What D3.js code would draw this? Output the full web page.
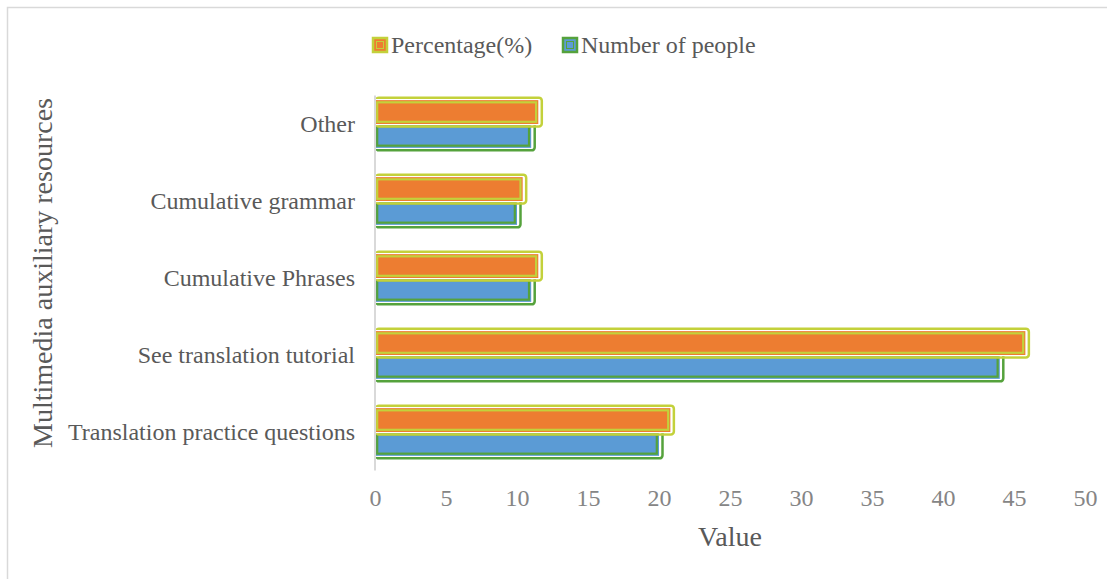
<!DOCTYPE html>
<html>
<head>
<meta charset="utf-8">
<script src="https://cdn.jsdelivr.net/npm/d3@7"></script>
<style>
  body { margin: 0; background: #fff; }
  svg text { font-family: "Liberation Serif", "Times New Roman", serif !important; }
</style>
</head>
<body>
<svg id="chart" width="1107" height="579"></svg>
<script>
// data
const categories = ["Other", "Cumulative grammar", "Cumulative Phrases", "See translation tutorial", "Translation practice questions"];
const percentage = [11.5, 10.4, 11.5, 45.8, 20.8];
const people = [11, 10, 11, 44, 20];
const seriesNames = ["Percentage(%)", "Number of people"];
const xTicks = [0, 5, 10, 15, 20, 25, 30, 35, 40, 45, 50];

const fills = { "Percentage(%)": "#ED7D31", "Number of people": "#5B9BD5" };
const edges = { "Percentage(%)": "#C3D13B", "Number of people": "#55A23C" };

const svg = d3.select("#chart");
const plotL = 375, plotR = 1085, plotT = 85.5, plotB = 470.5;

// chart frame
svg.append("rect")
    .attr("x", 7.5).attr("y", 7.5)
    .attr("width", 1110).attr("height", 590)
    .attr("fill", "none").attr("stroke", "#d9d9d9").attr("stroke-width", 1.5);

const x = d3.scaleLinear().domain([0, 50]).range([plotL, plotR]);
const y = d3.scaleBand().domain(categories).range([plotT, plotB])
    .paddingInner(0.38).paddingOuter(0.19);
const ys = d3.scaleBand().domain(seriesNames).range([0, y.bandwidth()]);

const rows = categories.map((c, i) => ({
    cat: c,
    vals: [
        { s: "Number of people", v: people[i] },
        { s: "Percentage(%)", v: percentage[i] }
    ]
}));

// bars: blue first so the orange glow sits on top
const g = svg.append("g").attr("class", "bars");
rows.forEach(r => {
    r.vals.forEach(d => {
        const y0 = y(r.cat) + ys(d.s), h = ys.bandwidth();
        const x0 = x(0), x1 = x(d.v);
        const b = g.append("g");
        // outer glow
        b.append("rect")
            .attr("x", x0 + 1).attr("y", y0 - 2.5)
            .attr("width", x1 - x0 + 2.5).attr("height", h + 5)
            .attr("rx", 3)
            .attr("fill", "none").attr("stroke", edges[d.s]).attr("stroke-width", 2.5);
        b.append("rect")
            .attr("x", x0 + 1).attr("y", y0 - 0.5)
            .attr("width", x1 - x0 - 0.5).attr("height", h + 1)
            .attr("fill", "none").attr("stroke", "#fff").attr("stroke-width", 1.2);
        // fill
        b.append("rect")
            .attr("x", x0).attr("y", y0)
            .attr("width", x1 - x0).attr("height", h)
            .attr("fill", fills[d.s]);
        // inner border
        b.append("rect")
            .attr("x", x0 + 2.2).attr("y", y0 + 2.2)
            .attr("width", x1 - x0 - 4.4).attr("height", h - 4.4)
            .attr("fill", "none").attr("stroke", edges[d.s]).attr("stroke-width", 2.2);
    });
});

// vertical axis line
svg.append("line")
    .attr("x1", plotL).attr("x2", plotL)
    .attr("y1", plotT + 10).attr("y2", plotB)
    .attr("stroke", "#d9d9d9").attr("stroke-width", 2);

// category labels
const yAxis = svg.append("g")
    .attr("transform", `translate(${plotL - 20},0)`)
    .call(d3.axisLeft(y).tickSize(0).tickPadding(0));
yAxis.attr("font-family", "Liberation Serif, serif");
yAxis.select(".domain").remove();
yAxis.selectAll("text")
    .attr("font-size", 24).attr("fill", "#595959");

// value ticks
const xAxis = svg.append("g")
    .attr("transform", `translate(0,${plotB})`)
    .call(d3.axisBottom(x).tickValues(xTicks).tickSize(0).tickPadding(18));
xAxis.attr("font-family", "Liberation Serif, serif");
xAxis.select(".domain").remove();
xAxis.selectAll("text")
    .attr("font-size", 24).attr("fill", "#858585");

// axis titles
svg.append("text")
    .attr("x", 730).attr("y", 546)
    .attr("text-anchor", "middle")
    .attr("font-size", 28).attr("fill", "#595959")
    .text("Value");

svg.append("text")
    .attr("transform", "translate(52,273) rotate(-90)")
    .attr("text-anchor", "middle")
    .attr("font-size", 28).attr("fill", "#595959")
    .text("Multimedia auxiliary resources");

// legend
const legend = svg.append("g");
const legendX = [372, 562];
seriesNames.forEach((s, i) => {
    const lg = legend.append("g").attr("transform", `translate(${legendX[i]},37)`);
    lg.append("rect").attr("x", 1).attr("y", 1).attr("width", 14).attr("height", 14)
        .attr("fill", fills[s]).attr("stroke", edges[s]).attr("stroke-width", 2.5);
    lg.append("rect").attr("x", 4.5).attr("y", 4.5).attr("width", 7).attr("height", 7)
        .attr("fill", fills[s]).attr("stroke", edges[s]).attr("stroke-width", 1);
    lg.append("text")
        .attr("x", 19).attr("y", 15.5)
        .attr("font-size", 24).attr("fill", "#595959")
        .text(s);
});
</script>
</body>
</html>
